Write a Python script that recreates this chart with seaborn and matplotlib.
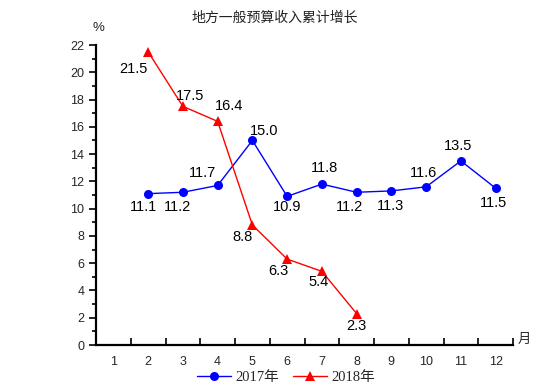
import matplotlib
matplotlib.use("Agg")
import matplotlib.pyplot as plt
import seaborn as sns
import pandas as pd
from matplotlib.ticker import FixedLocator, MultipleLocator, NullFormatter
from matplotlib.lines import Line2D

months_2017 = [2, 3, 4, 5, 6, 7, 8, 9, 10, 11, 12]
values_2017 = [11.1, 11.2, 11.7, 15.0, 10.9, 11.8, 11.2, 11.3, 11.6, 13.5, 11.5]
months_2018 = [2, 3, 4, 5, 6, 7, 8]
values_2018 = [21.5, 17.5, 16.4, 8.8, 6.3, 5.4, 2.3]
month_labels = [str(m) for m in range(1, 13)]
title = "地方一般预算收入累计增长"
series_names = ["2017年", "2018年"]

sns.set_style("ticks")
plt.rcParams['font.family'] = ['Liberation Sans', 'Noto Sans CJK SC']

fig = plt.figure(figsize=(5.55, 3.91), dpi=100)
ax = fig.add_axes([96/555, 1-345/391, (513-96)/555, 300/391])

df17 = pd.DataFrame({"month": months_2017, "value": values_2017})
df18 = pd.DataFrame({"month": months_2018, "value": values_2018})
sns.lineplot(data=df17, x="month", y="value", ax=ax, color="#0000ff", marker="o",
             markersize=6.5, markeredgewidth=0, linewidth=1)
sns.lineplot(data=df18, x="month", y="value", ax=ax, color="#ff0000", marker="^",
             markersize=7.5, markeredgewidth=0, linewidth=1)

off17 = [(-5, -13), (-5, -15), (-15, 12), (12, 9), (0, -11), (3, 16), (-7, -15), (-1, -15), (-3, 14), (-3, 15), (-2, -15)]
off18 = [(-15, -17), (7, 10), (11, 15), (-10, -12), (-9, -12), (-3, -11), (0, -12)]
for m, v, o in zip(months_2017, values_2017, off17):
    ax.annotate(f"{v:.1f}", (m, v), xytext=o, textcoords="offset pixels",
                ha="center", va="center", fontsize=10.5, color="black")
for m, v, o in zip(months_2018, values_2018, off18):
    ax.annotate(f"{v:.1f}", (m, v), xytext=o, textcoords="offset pixels",
                ha="center", va="center", fontsize=10.5, color="black")

ax.set_xlim(0.5, 12.5)
ax.set_ylim(0, 22)
ax.xaxis.set_major_locator(FixedLocator([i + 0.5 for i in range(0, 13)]))
ax.xaxis.set_major_formatter(NullFormatter())
ax.xaxis.set_minor_locator(FixedLocator(list(range(1, 13))))
ax.set_xticks(list(range(1, 13)), month_labels, minor=True)
ax.tick_params(axis="x", which="major", direction="in", length=5, width=1.2, color="black")
ax.tick_params(axis="x", which="minor", length=0, labelsize=9, pad=8)
ax.yaxis.set_major_locator(MultipleLocator(2))
ax.yaxis.set_minor_locator(MultipleLocator(1))
ax.tick_params(axis="y", which="major", direction="out", length=5, width=1.2, labelsize=9, color="black")
ax.tick_params(axis="y", which="minor", direction="out", length=3, width=1.2, color="black")
ax.set_xlabel("")
ax.set_ylabel("")
for s in ["top", "right"]:
    ax.spines[s].set_visible(False)
for s in ["left", "bottom"]:
    ax.spines[s].set_linewidth(1.6)
    ax.spines[s].set_color("black")

fig.text(275/555, 1-18/391, title, ha="center", va="center", fontsize=10,
         family=['Noto Sans CJK SC'], color="#222222")
fig.text(98/555, 1-28/391, "%", ha="center", va="center", fontsize=9.5)
fig.text(524/555, 1-339/391, "月", ha="center", va="center", fontsize=9.5,
         family=['Noto Sans CJK SC'])

handles = [Line2D([], [], color="#0000ff", marker="o", markersize=6.5, markeredgewidth=0, linewidth=1),
           Line2D([], [], color="#ff0000", marker="^", markersize=7.5, markeredgewidth=0, linewidth=1)]
leg = fig.legend(handles, series_names, loc="center", bbox_to_anchor=(286/555, 1-377/391), ncol=2,
                 frameon=False, handlelength=2.3, columnspacing=1.0, handletextpad=0.3,
                 prop={'family': ['Liberation Serif', 'Noto Sans CJK SC'], 'size': 10.5})

fig.savefig("out.png", dpi=100)
